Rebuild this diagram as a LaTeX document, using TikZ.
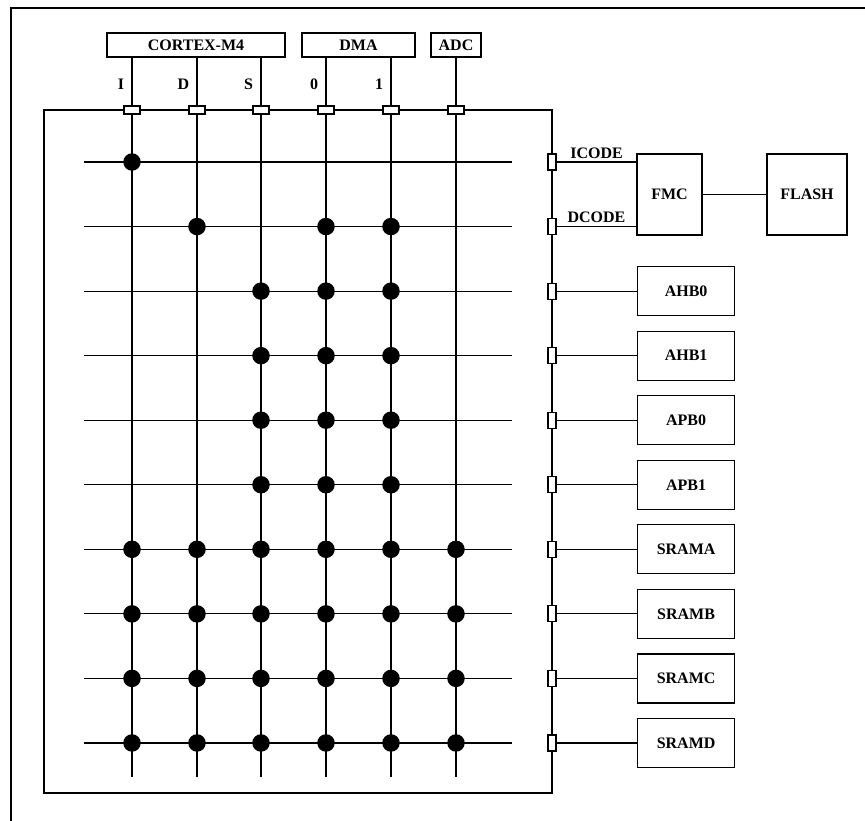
\documentclass[tikz,border=0pt]{standalone}
\usepackage{fontspec}
\setmainfont{Liberation Serif}
\usetikzlibrary{positioning}

\begin{document}
\begin{tikzpicture}[x=1pt,y=-1pt,
  font=\fontsize{16}{19}\selectfont\bfseries, line width=1.2pt,
  mst/.style={draw,minimum height=24pt,inner sep=0pt},
  blk/.style={draw,minimum height=49pt,minimum width=97pt,inner sep=0pt,anchor=west},
  hport/.style={draw,fill=white,minimum width=16pt,minimum height=8pt,inner sep=0pt},
  vport/.style={draw,fill=white,minimum width=8pt,minimum height=16pt,inner sep=0pt},
  jn/.style={circle,fill,minimum size=17.5pt,inner sep=0pt}
]
\useasboundingbox (0,0) rectangle (865,821);
\draw[line width=2.4pt] (11,821) -- (11,8) -- (865,8);

% bus masters
\node[mst,minimum width=178pt] (cortex) at (196,45) {CORTEX-M4};
\node[mst,minimum width=113pt] (dma) at (358.5,45) {DMA};
\node[mst,minimum width=50pt] (adc) at (456,45) {ADC};

% matrix frame
\draw (44,110) rectangle (552,793);

% master ports and bus lines
\foreach \c/\x in {I/132,D/197,S/261,0/326,1/391,A/456} {
  \draw (\x,110) -- (\x,777);
  \node[hport] (p\c) at (\x,110) {};
}
\foreach \c in {I,D,S} \draw (cortex.south -| p\c) -- (p\c.north);
\foreach \c in {0,1} \draw (dma.south -| p\c) -- (p\c.north);
\draw (adc.south) -- (pA.north);
\foreach \c in {I,D,S,0,1} \node[left=4pt] (l\c) at (p\c |- 0,84) {\c};

% slave rows
\foreach \r in {1,...,10} {
  \pgfmathsetmacro\yy{162+64.55*(\r-1)}
  \draw (84,\yy) -- (512,\yy);
  \node[vport] (r\r) at (552,\yy) {};
}

% slaves
\node[draw,minimum width=65pt,minimum height=81pt] (fmc) at (669.5,194.5) {FMC};
\node[draw,minimum width=80pt,minimum height=81pt] (flash) at (807,194.5) {FLASH};
\draw (fmc) -- (flash);
\draw (r1.east) -- node[above,inner sep=3pt] (icode) {ICODE} (r1.east -| fmc.west);
\draw (r2.east) -- node[above,inner sep=3pt] (dcode) {DCODE} (r2.east -| fmc.west);
\foreach \r/\t in {3/AHB0,4/AHB1,5/APB0,6/APB1,7/SRAMA,8/SRAMB,9/SRAMC,10/SRAMD} {
  \node[blk] (s\r) at (r\r -| 637,0) {\t};
  \draw (r\r.east) -- (s\r.west);
}

% connections
\foreach \r/\cols in {1/{I},2/{D,0,1},3/{S,0,1},4/{S,0,1},5/{S,0,1},6/{S,0,1},
  7/{I,D,S,0,1,A},8/{I,D,S,0,1,A},9/{I,D,S,0,1,A},10/{I,D,S,0,1,A}}
  \foreach \c in \cols \node[jn] (j\r\c) at (p\c |- r\r) {};
\end{tikzpicture}
\end{document}
